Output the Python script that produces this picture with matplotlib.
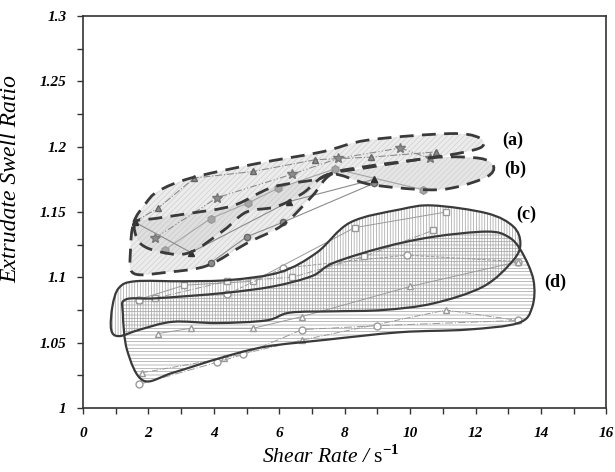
import numpy as np
import matplotlib
matplotlib.use("Agg")
import matplotlib.pyplot as plt
from matplotlib.path import Path
from matplotlib.patches import PathPatch

plt.rcParams['font.family'] = ['Liberation Serif', 'DejaVu Serif']
plt.rcParams['mathtext.fontset'] = 'custom'
plt.rcParams['mathtext.rm'] = 'Liberation Serif'
plt.rcParams['mathtext.bf'] = 'Liberation Serif:bold'
plt.rcParams['hatch.linewidth'] = 0.5

# data series
a1_x = [1.6, 2.3, 3.4, 5.2, 7.1, 8.8, 10.8]
a1_y = [1.143, 1.153, 1.176, 1.181, 1.190, 1.192, 1.196]
a2_x = [2.2, 4.1, 6.4, 7.8, 9.7, 10.6]
a2_y = [1.130, 1.161, 1.179, 1.191, 1.199, 1.191]
a3_x = [3.9, 5.0, 6.1, 8.9]
a3_y = [1.111, 1.131, 1.142, 1.172]
b1_x = [2.5, 3.9, 5.05, 5.95, 7.7, 10.4]
b1_y = [1.121, 1.145, 1.157, 1.168, 1.183, 1.167]
b2_x = [1.6, 3.3, 6.3, 8.9]
b2_y = [1.142, 1.119, 1.158, 1.175]

c1_x = [1.7, 3.1, 5.2, 8.3, 11.1]
c1_y = [1.083, 1.094, 1.097, 1.138, 1.150]
c2_x = [2.2, 4.4, 6.4, 8.6, 10.7]
c2_y = [1.084, 1.097, 1.100, 1.116, 1.136]
c3_x = [1.7, 4.4, 6.1, 9.9, 13.3]
c3_y = [1.083, 1.087, 1.107, 1.117, 1.112]
d1_x = [2.3, 3.3, 5.2, 6.7, 10.0, 13.3]
d1_y = [1.057, 1.061, 1.061, 1.070, 1.093, 1.112]
d2_x = [1.8, 4.3, 6.7, 11.1, 13.3]
d2_y = [1.027, 1.038, 1.052, 1.075, 1.067]
d3_x = [1.7, 4.1, 4.9, 6.7, 9.0, 13.3]
d3_y = [1.018, 1.035, 1.041, 1.060, 1.063, 1.067]

# envelope outlines
ea_x = [1.55, 1.9, 2.3, 3.3, 5.3, 7.3, 8.7, 11.2, 12.1, 12.2, 11.5, 10.2, 8.7, 7.6,
        7.0, 6.1, 5.0, 3.8, 2.6, 1.55, 1.45]
ea_y = [1.142, 1.156, 1.166, 1.176, 1.187, 1.196, 1.205, 1.210, 1.207, 1.200, 1.195,
        1.190, 1.185, 1.179, 1.162, 1.140, 1.126, 1.109, 1.104, 1.103, 1.120]
eb_x = [1.59, 1.75, 2.45, 3.27, 4.3, 5.0, 5.9, 6.7, 7.55, 8.8, 10.5, 11.4, 12.35, 12.55,
        12.15, 10.9, 9.7, 8.7, 7.65, 7.15, 5.8, 4.6, 3.27, 2.2]
eb_y = [1.142, 1.126, 1.119, 1.119, 1.136, 1.150, 1.154, 1.164, 1.179, 1.171, 1.167, 1.169,
        1.177, 1.185, 1.191, 1.192, 1.188, 1.184, 1.180, 1.175, 1.169, 1.155, 1.149, 1.145]
ec_x = [1.6, 3.06, 4.5, 6.03, 7.15, 8.17, 9.7, 10.7, 12.35, 13.15, 13.37, 13.15, 12.24,
        10.7, 9.18, 7.7, 6.33, 5.6, 4.1, 2.75, 1.74, 1.1, 0.86, 0.9, 1.1]
ec_y = [1.097, 1.097, 1.098, 1.104, 1.119, 1.142, 1.152, 1.155, 1.149, 1.139, 1.126, 1.113,
        1.093, 1.080, 1.075, 1.074, 1.073, 1.067, 1.065, 1.066, 1.060, 1.055, 1.060, 1.078, 1.092]
ed_x = [1.3, 2.26, 4.3, 5.8, 7.0, 7.65, 9.18, 10.7, 12.35, 13.0, 13.4, 13.77, 13.73,
        13.3, 11.75, 9.7, 7.35, 5.6, 4.3, 2.75, 1.84, 1.35, 1.22]
ed_y = [1.083, 1.084, 1.088, 1.093, 1.101, 1.111, 1.123, 1.131, 1.135, 1.131, 1.120,
        1.098, 1.077, 1.065, 1.060, 1.058, 1.052, 1.047, 1.039, 1.027, 1.021, 1.044, 1.072]

labels = ['(a)', '(b)', '(c)', '(d)']
label_x = [13.15, 13.2, 13.55, 14.45]
label_y = [1.205, 1.183, 1.148, 1.096]


def closed_curve(xs, ys):
    p = np.column_stack([xs, ys])
    n = len(p)
    verts = [p[0]]
    codes = [Path.MOVETO]
    for i in range(n):
        p0, p1, p2, p3 = p[i - 1], p[i], p[(i + 1) % n], p[(i + 2) % n]
        verts += [p1 + (p2 - p0) / 6, p2 - (p3 - p1) / 6, p2]
        codes += [Path.CURVE4] * 3
    verts.append(p[0])
    codes.append(Path.CLOSEPOLY)
    return Path(verts, codes)


fig = plt.figure(figsize=(6.15, 4.72), dpi=100)
ax = fig.add_axes([0.135, 0.1356, 0.851, 0.8305])

# filled envelopes with hatching
pd_ = closed_curve(ed_x, ed_y)
pc_ = closed_curve(ec_x, ec_y)
pa_ = closed_curve(ea_x, ea_y)
pb_ = closed_curve(eb_x, eb_y)
ax.add_patch(PathPatch(pd_, facecolor='white', edgecolor='#a0a0a0', hatch='-----', lw=0, zorder=1))
ax.add_patch(PathPatch(pc_, facecolor='none', edgecolor='#a0a0a0', hatch='||||||', lw=0, zorder=1.1))
ax.add_patch(PathPatch(pa_, facecolor='#ececec', edgecolor='#d0d0d0', hatch='//////', lw=0, zorder=1))
ax.add_patch(PathPatch(pb_, facecolor='#dadada', edgecolor='#c8c8c8', hatch='//////', lw=0, zorder=1.1, alpha=0.7))

# data series
g = '#8c8c8c'
ax.plot(a1_x, a1_y, color=g, lw=0.8, ls='-.', marker='^', ms=5, mfc=g, mec='#666666', zorder=3)
ax.plot(a2_x, a2_y, color=g, lw=0.8, ls=(0, (6, 2, 1, 2, 1, 2)), marker='*', ms=7, mfc=g, mec='#777777', zorder=3)
ax.plot(a3_x, a3_y, color=g, lw=0.8, marker='o', ms=4.5, mfc=g, mec='#666666', zorder=3)
ax.plot(b1_x, b1_y, color='#a5a5a5', lw=0.8, marker='h', ms=5.5, mfc='#a5a5a5', mec='#999999', zorder=3)
ax.plot(b2_x, b2_y, color=g, lw=0.8, marker='^', ms=4.5, mfc='#303030', mec='#303030', zorder=3)

oc = '#9a9a9a'
ax.plot(c1_x, c1_y, color=oc, lw=0.7, marker='s', ms=5, mfc='white', mec=oc, zorder=3)
ax.plot(c2_x, c2_y, color=oc, lw=0.7, ls='-.', marker='s', ms=5, mfc='white', mec=oc, zorder=3)
ax.plot(c3_x, c3_y, color=oc, lw=0.7, ls='--', marker='o', ms=5, mfc='white', mec=oc, zorder=3)
ax.plot(d1_x, d1_y, color=oc, lw=0.7, marker='^', ms=5, mfc='white', mec=oc, zorder=3)
ax.plot(d2_x, d2_y, color=oc, lw=0.7, ls='-.', marker='^', ms=5, mfc='white', mec=oc, zorder=3)
ax.plot(d3_x, d3_y, color=oc, lw=0.7, ls=(0, (8, 2, 1, 2)), marker='o', ms=5, mfc='white', mec=oc, zorder=3)

# outlines
ax.add_patch(PathPatch(pd_, facecolor='none', edgecolor='#3a3a3a', lw=1.6, zorder=4))
ax.add_patch(PathPatch(pc_, facecolor='none', edgecolor='#3a3a3a', lw=1.6, zorder=4))
ax.add_patch(PathPatch(pa_, facecolor='none', edgecolor='#3a3a3a', lw=2.0, ls=(0, (5, 3)), zorder=4))
ax.add_patch(PathPatch(pb_, facecolor='none', edgecolor='#3a3a3a', lw=2.0, ls=(0, (5, 3)), zorder=4))

for t, x, y in zip(labels, label_x, label_y):
    ax.text(x, y, t, fontsize=13, fontweight='bold', ha='center', va='center', zorder=5)

ax.set_xlim(0, 16)
ax.set_ylim(1.0, 1.3)
ax.set_xticks(np.arange(0, 17, 2))
ax.set_xticks(np.arange(0, 17, 1), minor=True)
ax.set_yticks([1.0, 1.05, 1.1, 1.15, 1.2, 1.25, 1.3])
ax.set_yticklabels(['1', '1.05', '1.1', '1.15', '1.2', '1.25', '1.3'])
ax.set_yticks(np.arange(1.0, 1.3001, 0.025), minor=True)
ax.tick_params(which='both', direction='out', length=4, width=1, color='#333333')
for lab in ax.get_xticklabels() + ax.get_yticklabels():
    lab.set_fontstyle('italic')
    lab.set_fontweight('bold')
    lab.set_fontsize(11)
ax.tick_params(axis='x', pad=10)
ax.tick_params(axis='y', pad=8)
for s in ax.spines.values():
    s.set_color('#333333')
    s.set_linewidth(1.2)

ax.set_ylabel('Extrudate Swell Ratio', fontsize=17, fontstyle='italic')
ax.yaxis.set_label_coords(-0.118, 0.585)
ax.set_xlabel(r'Shear Rate / $\mathrm{s}^{\mathbf{-1}}$', fontsize=15.5, fontstyle='italic')
ax.xaxis.set_label_coords(0.474, -0.095)

fig.savefig('out.png', dpi=100)
